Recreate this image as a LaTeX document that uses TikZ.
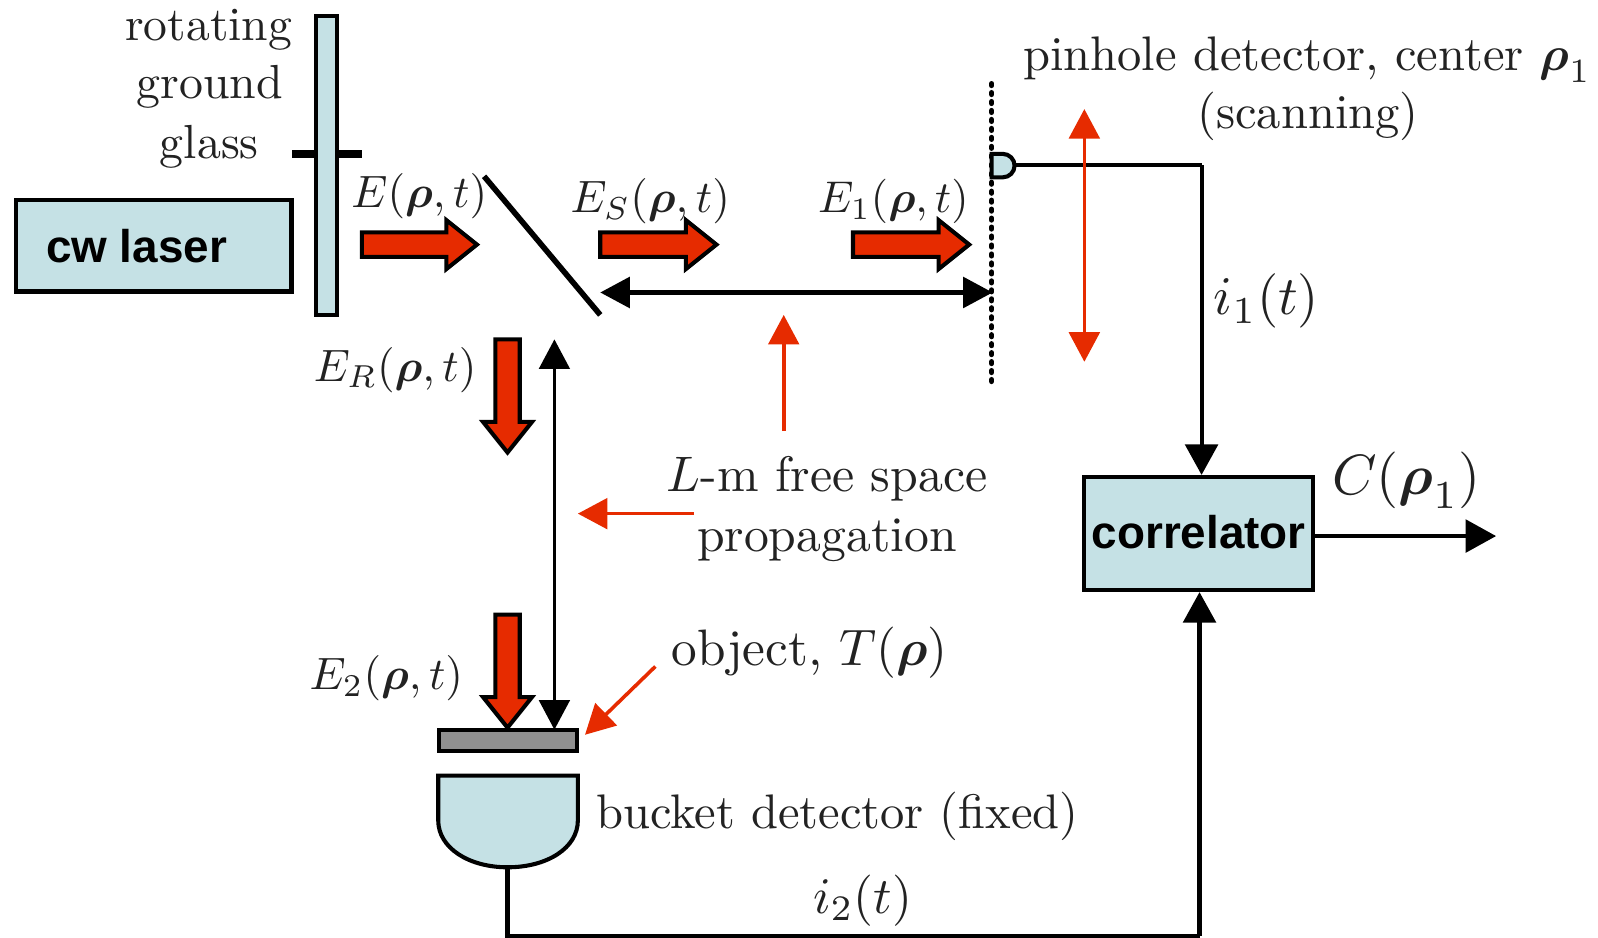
\documentclass[tikz,border=0pt]{standalone}
\usepackage{amsmath}
\usepackage{fontspec}
\newfontfamily\labelsans{Liberation Sans}
\usetikzlibrary{arrows.meta,calc}
\definecolor{boxblue}{HTML}{C5E1E5}
\definecolor{beamred}{HTML}{E62B00}
\definecolor{objgray}{HTML}{909090}
\definecolor{inkgray}{HTML}{222222}
\tikzset{
  x=1pt,y=-1pt,
  box/.style={draw=black,line width=4pt,fill=boxblue,inner sep=0pt},
  lbl/.style={inner sep=0pt,anchor=base west,text=inkgray,scale=4.45},
  sanslbl/.style={inner sep=0pt,anchor=base west,text=black,font=\labelsans\bfseries\fontsize{45}{49}\selectfont},
  wire/.style={draw=black,line width=4pt},
  wirearrow/.style={wire,-{Triangle[length=30pt,width=32pt]}},
  thinarrow/.style={draw=black,line width=3pt,{Triangle[length=29pt,width=30pt]}-{Triangle[length=29pt,width=30pt]}},
  redarrow/.style={draw=beamred,line width=3.5pt,-{Triangle[length=29pt,width=30pt]}},
  reddouble/.style={draw=beamred,line width=3.5pt,{Triangle[length=29pt,width=30pt]}-{Triangle[length=29pt,width=30pt]}},
  fatarrow/.pic={
    \draw[black,line width=4pt,fill=beamred,line join=miter,miter limit=3]
      (0,-12) -- (#1-30,-12) -- (#1-30,-24) -- (#1,0) -- (#1-30,24) -- (#1-30,12) -- (0,12) -- cycle;
  },
}
\begin{document}
\begin{tikzpicture}
\useasboundingbox (0,0) rectangle (1568,920);
% axle and glass
\coordinate (axleL) at (287,151);
\coordinate (axleR) at (355,151);
\draw[black,line width=8pt] (axleL) -- (axleR);
\node[box,minimum width=21pt,minimum height=293pt,anchor=north west] (glass) at (308,14) {};
\node[box,minimum width=270pt,minimum height=90pt,anchor=north west] (laser) at (14,194) {};
\node[sanslbl] (lasertxt) at (45,258) {cw laser};
\node[lbl,scale=1.05] (t1) at (122,40) {rotating};
\node[lbl,scale=1.055] (t2) at (133,97) {ground};
\node[lbl,scale=1.055] (t3) at (156,156) {glass};
% mirror
\coordinate (mirrorA) at (475,173);
\coordinate (mirrorB) at (589,309);
\draw[black,line width=5.5pt] (mirrorA) -- (mirrorB);
% fat beams
\pic at (355,240) {fatarrow=113};
\pic at (589,240) {fatarrow=114};
\pic at (837,240) {fatarrow=114};
\pic[rotate=-90] at (498,333) {fatarrow=111};
\pic[rotate=-90] at (498,603) {fatarrow=111};
% beam labels
\node[lbl] (lE) at (344,204) {$E(\boldsymbol{\rho},t)$};
\node[lbl] (lES) at (559,209) {$E_S(\boldsymbol{\rho},t)$};
\node[lbl,scale=0.98] (lE1) at (802,209) {$E_1(\boldsymbol{\rho},t)$};
\node[lbl] (lER) at (307,374) {$E_R(\boldsymbol{\rho},t)$};
\node[lbl] (lE2) at (303,677) {$E_2(\boldsymbol{\rho},t)$};
% pinhole plane
\coordinate (planeT) at (973,82);
\coordinate (planeB) at (973,378);
\draw[black,line width=5pt,line cap=round,dash pattern=on 2pt off 6.8pt] (planeT) -- (planeB);
% pinhole detector
\draw[black,line width=4pt,fill=boxblue] (973,151) -- (984,151) arc[start angle=-90,end angle=90,radius=11.5] -- (973,174) -- cycle;
\coordinate (pinOut) at (996,162);
\coordinate (i1corner) at (1179,162);
% double arrows
\coordinate (rangeL) at (589,287);
\coordinate (rangeR) at (974,287);
\draw[thinarrow,line width=4pt] (rangeL) -- (rangeR);
\coordinate (vertT) at (544,333);
\coordinate (vertB) at (544,716);
\draw[thinarrow] (vertT) -- (vertB);
% red annotation arrows
\coordinate (redUpA) at (769,423);
\coordinate (redUpB) at (769,309);
\draw[redarrow] (redUpA) -- (redUpB);
\coordinate (redLeftA) at (681,504);
\coordinate (redLeftB) at (567,504);
\draw[redarrow] (redLeftA) -- (redLeftB);
\coordinate (redObjA) at (643,654);
\coordinate (redObjB) at (574,721);
\draw[redarrow] (redObjA) -- (redObjB);
\coordinate (scanT) at (1064,107);
\coordinate (scanB) at (1064,355);
% text
\node[lbl,scale=1.07] (lpin) at (1003,69) {pinhole detector, center $\boldsymbol{\rho}_1$};
\node[lbl,scale=1.07] (lscan) at (1174,126) {(scanning)};
\node[lbl,scale=1.1] (lL) at (653,482) {$L$-m free space};
\node[lbl,scale=1.095] (lprop) at (683,541) {propagation};
\node[lbl,scale=1.13] (lobj) at (658,653) {object, $T(\boldsymbol{\rho})$};
\node[lbl,scale=1.07] (lbuck) at (584,813) {bucket detector (fixed)};
\node[lbl,scale=1.2] (li1) at (1190,309) {$i_1(t)$};
\node[lbl,scale=1.13] (li2) at (797,896) {$i_2(t)$};
\node[lbl,scale=1.25] (lC) at (1306,485) {$C(\boldsymbol{\rho}_1)$};
% object and bucket
\node[draw=black,line width=4pt,fill=objgray,minimum width=135pt,minimum height=21pt,anchor=north west,inner sep=0pt] (object) at (429,714) {};
\draw[black,line width=4pt,fill=boxblue] (430,761) -- (567,761) -- (567,805)
  .. controls (567,832) and (537,851) .. (498,851)
  .. controls (460,851) and (430,832) .. (430,805) -- cycle;
\coordinate (bucketOut) at (498,851);
% correlator
\node[box,minimum width=224pt,minimum height=111pt,anchor=north west] (corr) at (1062,466) {};
\node[sanslbl] (corrtxt) at (1071,538) {correlator};
\coordinate (corrIn1) at (1179,466);
\coordinate (corrIn2) at (1177,581);
\coordinate (corrOut) at (1289,526);
\coordinate (outEnd) at (1468,526);
\coordinate (i2a) at (498,918);
\coordinate (i2b) at (1177,918);
\draw[wire] (pinOut) -- (i1corner);
\draw[wirearrow] (i1corner) -- (corrIn1);
\draw[wire] (bucketOut) -- (i2a) -- (i2b);
\draw[wirearrow] (i2b) -- (corrIn2);
\draw[wirearrow] (corrOut) -- (outEnd);
\draw[reddouble] (scanT) -- (scanB);
\end{tikzpicture}
\end{document}
